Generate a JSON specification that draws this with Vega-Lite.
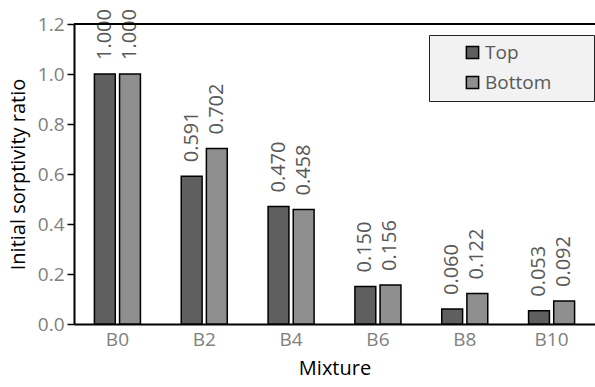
{
  "$schema": "https://vega.github.io/schema/vega-lite/v6.json",
  "width": 521,
  "height": 300,
  "autosize": "none",
  "padding": {"left": 74, "top": 24, "right": 0, "bottom": 63},
  "background": "white",
  "config": {"view": {"stroke": null}, "font": "Open Sans"},
  "data": {
    "values": [
      {"mixture": "B0", "position": "Top", "ratio": 1.0},
      {"mixture": "B0", "position": "Bottom", "ratio": 1.0},
      {"mixture": "B2", "position": "Top", "ratio": 0.591},
      {"mixture": "B2", "position": "Bottom", "ratio": 0.702},
      {"mixture": "B4", "position": "Top", "ratio": 0.47},
      {"mixture": "B4", "position": "Bottom", "ratio": 0.458},
      {"mixture": "B6", "position": "Top", "ratio": 0.15},
      {"mixture": "B6", "position": "Bottom", "ratio": 0.156},
      {"mixture": "B8", "position": "Top", "ratio": 0.06},
      {"mixture": "B8", "position": "Bottom", "ratio": 0.122},
      {"mixture": "B10", "position": "Top", "ratio": 0.053},
      {"mixture": "B10", "position": "Bottom", "ratio": 0.092}
    ]
  },
  "layer": [
    {
      "mark": {"type": "bar", "stroke": "black", "strokeWidth": 1.5},
      "encoding": {
        "x": {
          "field": "mixture", "type": "nominal",
          "sort": ["B0", "B2", "B4", "B6", "B8", "B10"],
          "scale": {"paddingInner": 0.47, "paddingOuter": 0.235},
          "axis": {
            "domainColor": "black", "domainWidth": 2, "ticks": false,
            "labelColor": "#808080", "labelFontSize": 19, "labelPadding": 6, "labelAngle": 0,
            "title": "Mixture", "titleFontSize": 20, "titleFontWeight": "normal",
            "titleColor": "black", "titlePadding": 9
          }
        },
        "xOffset": {"field": "position", "type": "nominal", "sort": ["Top", "Bottom"], "scale": {"paddingInner": 0.17}},
        "y": {
          "field": "ratio", "type": "quantitative",
          "scale": {"domain": [0, 1.2]},
          "axis": {
            "values": [0, 0.2, 0.4, 0.6, 0.8, 1.0, 1.2], "format": ".1f", "grid": false,
            "domainColor": "black", "domainWidth": 2, "tickColor": "black", "tickWidth": 1.5, "tickSize": 7,
            "labelColor": "#808080", "labelFontSize": 19, "labelPadding": 3,
            "title": "Initial sorptivity ratio", "titleFontSize": 20, "titleFontWeight": "normal",
            "titleColor": "black", "titlePadding": 9
          }
        },
        "fill": {
          "field": "position", "type": "nominal",
          "scale": {"domain": ["Top", "Bottom"], "range": ["#5f5f5f", "#8f8f8f"]},
          "legend": {
            "orient": "none", "legendX": 355, "legendY": 11, "title": null,
            "symbolType": "square", "symbolSize": 150, "symbolStrokeColor": "black", "symbolStrokeWidth": 1.5,
            "symbolOffset": 26, "labelOffset": 3,
            "labelFontSize": 19, "labelColor": "#595959",
            "padding": 8, "rowPadding": 10,
            "fillColor": "#f2f2f2", "strokeColor": "#222222",
            "labelExpr": "datum.label + '\u00a0\u00a0\u00a0\u00a0\u00a0\u00a0\u00a0\u200b'"
          }
        }
      }
    },
    {
      "mark": {"type": "text", "angle": 270, "align": "left", "baseline": "middle", "dx": 14, "fontSize": 20, "color": "#595959"},
      "encoding": {
        "x": {"field": "mixture", "type": "nominal", "sort": ["B0", "B2", "B4", "B6", "B8", "B10"]},
        "xOffset": {"field": "position", "type": "nominal", "sort": ["Top", "Bottom"]},
        "y": {"field": "ratio", "type": "quantitative"},
        "text": {"field": "ratio", "type": "quantitative", "format": ".3f"}
      }
    },
    {
      "data": {"values": [{"top": 1.2}]},
      "mark": {"type": "rule", "color": "black", "strokeWidth": 2},
      "encoding": {"y": {"field": "top", "type": "quantitative"}}
    }
  ]
}
